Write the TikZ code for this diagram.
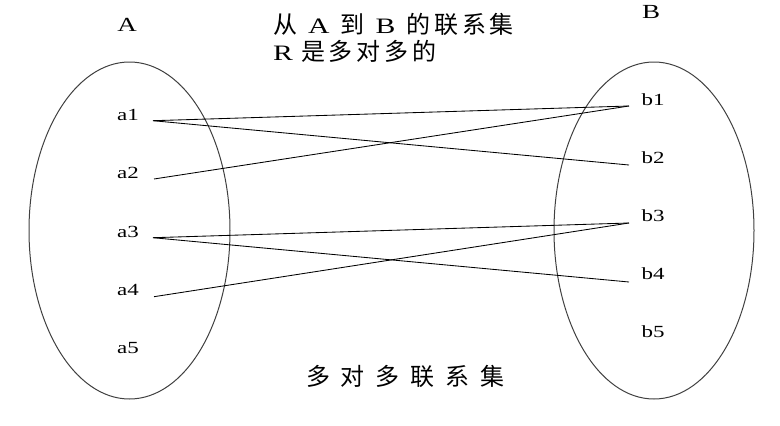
\documentclass[tikz,border=0pt]{standalone}
\usepackage{fontspec}
\usetikzlibrary{shapes.geometric}
\setmainfont{Liberation Serif}
\newfontfamily\cjkf[LetterSpace=16]{Noto Sans CJK SC}
\newfontfamily\cjkwide[LetterSpace=45]{Noto Sans CJK SC}
\newcommand\latw[1]{\scalebox{1.35}[1]{\rmfamily #1}}
\newcommand\tlat[1]{{\fontsize{22}{22}\selectfont\latw{#1}}}
\begin{document}
\begin{tikzpicture}[x=1pt,y=-1pt,
  setell/.style={draw=black!75,line width=1pt},
  elem/.style={inner sep=0pt,font=\fontsize{17}{17}\selectfont},
  link/.style={draw=black,line width=0.85pt},
  cjktext/.style={inner sep=0pt,anchor=west,font=\fontsize{24}{24}\cjkf}]
\useasboundingbox (0,0) rectangle (780,426);
% sets
\node[setell,ellipse,minimum width=201pt,minimum height=337pt,inner sep=0pt] (SA) at (129.5,230.5) {};
\node[setell,ellipse,minimum width=200pt,minimum height=337pt,inner sep=0pt] (SB) at (654,230.5) {};
% set names
\node[elem,font=\fontsize{20}{20}\selectfont] (lA) at (127,25) {\latw{A}};
\node[elem,font=\fontsize{20}{20}\selectfont] (lB) at (651,12) {\latw{B}};
% titles
\node[cjktext] (t1) at (273,24) {从\hspace{11pt}\tlat{A}\hspace{11pt}到\hspace{11pt}\tlat{B}\hspace{11pt}的联系集};
\node[cjktext] (t2) at (273,51) {\tlat{R}\hspace{8pt}是多对多的};
\node[inner sep=0pt,anchor=west,font=\fontsize{24}{24}\cjkwide] (t3) at (306,376) {多对多联系集};
% elements of A
\node[elem] (a1) at (128,115) {\latw{a1}};
\node[elem] (a2) at (128,173) {\latw{a2}};
\node[elem] (a3) at (128,232) {\latw{a3}};
\node[elem] (a4) at (128,290) {\latw{a4}};
\node[elem] (a5) at (128,348) {\latw{a5}};
% elements of B
\node[elem] (b1) at (653,100) {\latw{b1}};
\node[elem] (b2) at (653,158) {\latw{b2}};
\node[elem] (b3) at (653,216) {\latw{b3}};
\node[elem] (b4) at (653,274) {\latw{b4}};
\node[elem] (b5) at (653,332) {\latw{b5}};
% connector ends
\coordinate (a1e) at (153,120.7);
\coordinate (a2e) at (154,179);
\coordinate (a3e) at (153,237.7);
\coordinate (a4e) at (154,296.7);
\coordinate (b1e) at (629,106);
\coordinate (b2e) at (629,165);
\coordinate (b3e) at (629,223);
\coordinate (b4e) at (629,282);
% connectors
\draw[link] (a1e) -- (b1e);
\draw[link] (a1e) -- (b2e);
\draw[link] (a2e) -- (b1e);
\draw[link] (a3e) -- (b3e);
\draw[link] (a3e) -- (b4e);
\draw[link] (a4e) -- (b3e);
\end{tikzpicture}
\end{document}
